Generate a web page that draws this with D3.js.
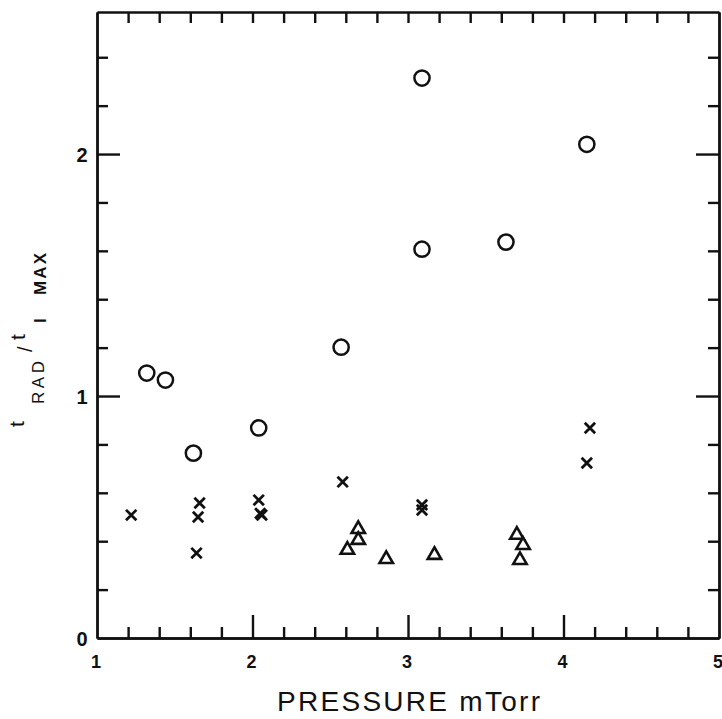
<!DOCTYPE html>
<html><head><meta charset="utf-8">
<script src="https://cdn.jsdelivr.net/npm/d3@7"></script>
<style>
html,body{margin:0;padding:0;background:#fff;}
svg{display:block;}
text{font-family:"Liberation Sans",Arial,sans-serif;fill:#111;}
</style></head>
<body>
<svg id="chart" width="722" height="719"></svg>
<script>
// Data: pressure (mTorr) and t_RAD/t_IMAX
const circleX = [1.32, 1.44, 1.62, 2.04, 2.57, 3.09, 3.09, 3.63, 4.15];
const circleY = [1.095, 1.066, 0.764, 0.868, 1.202, 2.314, 1.607, 1.636, 2.04];
const crossX = [1.22, 1.66, 1.65, 1.64, 2.04, 2.05, 2.06, 2.58, 3.09, 3.09, 4.17, 4.15];
const crossY = [0.508, 0.558, 0.50, 0.351, 0.57, 0.515, 0.508, 0.645, 0.55, 0.529, 0.868, 0.723];
const triX = [2.68, 2.68, 2.61, 2.86, 3.17, 3.70, 3.74, 3.72];
const triY = [0.45, 0.405, 0.364, 0.326, 0.343, 0.426, 0.384, 0.322];
const xTickLabels = ["1", "2", "3", "4", "5"];
const yTickLabels = ["0", "1", "2"];

(function () {
const svg = d3.select("#chart");
const mLeft = 97, mRight = 719, mTop = 12, mBottom = 638;
const x = d3.scaleLinear().domain([1, 5]).range([mLeft, mRight]);
const y = d3.scaleLinear().domain([0, 2.587]).range([mBottom, mTop]);

const majorX = d3.range(1, 6, 1);
const minorX = d3.range(1, 5.001, 0.2).filter(v => Math.abs(v - Math.round(v)) > 1e-6);
const majorY = [0, 1, 2];
const minorY = d3.range(0, 2.59, 0.2).filter(v => Math.abs(v - Math.round(v)) > 1e-6);

function styleAxis(g) {
  g.selectAll("path.domain").attr("stroke", "#111").attr("stroke-width", 2.4);
  g.selectAll(".tick line").attr("stroke", "#111").attr("stroke-width", 2.4);
  g.selectAll(".tick text").remove();
}
const LMAJ = 23, LMIN = 11;
// bottom
svg.append("g").attr("transform", `translate(0,${mBottom})`)
  .call(d3.axisBottom(x).tickValues(minorX).tickSizeInner(-LMIN).tickSizeOuter(0)).call(styleAxis);
svg.append("g").attr("transform", `translate(0,${mBottom})`)
  .call(d3.axisBottom(x).tickValues(majorX.slice(1, 4)).tickSizeInner(-LMAJ).tickSizeOuter(0)).call(styleAxis);
// top
svg.append("g").attr("transform", `translate(0,${mTop})`)
  .call(d3.axisTop(x).tickValues(minorX.concat(majorX.slice(1, 4))).tickSizeInner(-LMIN).tickSizeOuter(0)).call(styleAxis);
// left
svg.append("g").attr("transform", `translate(${mLeft},0)`)
  .call(d3.axisLeft(y).tickValues(minorY).tickSizeInner(-LMIN).tickSizeOuter(0)).call(styleAxis);
svg.append("g").attr("transform", `translate(${mLeft},0)`)
  .call(d3.axisLeft(y).tickValues(majorY.slice(1)).tickSizeInner(-LMAJ).tickSizeOuter(0)).call(styleAxis);
// right
svg.append("g").attr("transform", `translate(${mRight},0)`)
  .call(d3.axisRight(y).tickValues(minorY).tickSizeInner(-LMIN).tickSizeOuter(0)).call(styleAxis);
svg.append("g").attr("transform", `translate(${mRight},0)`)
  .call(d3.axisRight(y).tickValues(majorY.slice(1)).tickSizeInner(-LMAJ).tickSizeOuter(0)).call(styleAxis);

// tick labels
svg.append("g").selectAll("text").data(xTickLabels).join("text")
  .attr("x", d => x(+d) - 1).attr("y", mBottom + 30)
  .attr("text-anchor", "middle").attr("font-size", 18).attr("font-weight", "bold")
  .text(d => d);
svg.append("g").selectAll("text").data(yTickLabels).join("text")
  .attr("x", mLeft - 15).attr("y", d => y(+d) + 8)
  .attr("text-anchor", "middle").attr("font-size", 20).attr("font-weight", "bold")
  .text(d => d);

// x label
svg.append("text").attr("x", 277).attr("y", 711)
  .attr("font-size", 28).attr("textLength", 263).attr("lengthAdjust", "spacing")
  .text("PRESSURE mTorr");

// y label (rotated pieces)
const ylab = svg.append("g");
function piece(txt, sy, sx, size, bold, len) {
  const t = ylab.append("text")
    .attr("transform", `translate(${sx},${sy}) rotate(-90)`)
    .attr("font-size", size).attr("font-weight", bold ? "bold" : "normal").text(txt);
  if (len) t.attr("textLength", len).attr("lengthAdjust", "spacing");
}
piece("t", 427, 24, 21, false);
piece("RAD", 404, 44, 17, false, 43);
piece("/", 352, 32, 20, false);
piece("t", 340, 25, 21, false);
piece("I", 323, 46, 17, true);
piece("MAX", 295, 46, 17, true, 42);

// markers
const mk = svg.append("g").attr("fill", "none").attr("stroke", "#111");
mk.selectAll("circle").data(circleX).join("circle")
  .attr("cx", (d) => x(d)).attr("cy", (d, i) => y(circleY[i])).attr("r", 7.6)
  .attr("stroke-width", 2.5);
const cs = 5.2;
mk.selectAll("path.cross").data(crossX).join("path").attr("class", "cross")
  .attr("d", (d, i) => {
    const cx = x(d), cy = y(crossY[i]);
    return `M${cx - cs},${cy - cs}L${cx + cs},${cy + cs}M${cx - cs},${cy + cs}L${cx + cs},${cy - cs}`;
  }).attr("stroke-width", 2.8);
const tri = d3.symbol().type(d3.symbolTriangle).size(78);
mk.selectAll("path.tri").data(triX).join("path").attr("class", "tri")
  .attr("transform", (d, i) => `translate(${x(d)},${y(triY[i])})`)
  .attr("d", tri()).attr("stroke-width", 2.6).attr("stroke-linejoin", "miter");
})();
</script>
</body></html>
